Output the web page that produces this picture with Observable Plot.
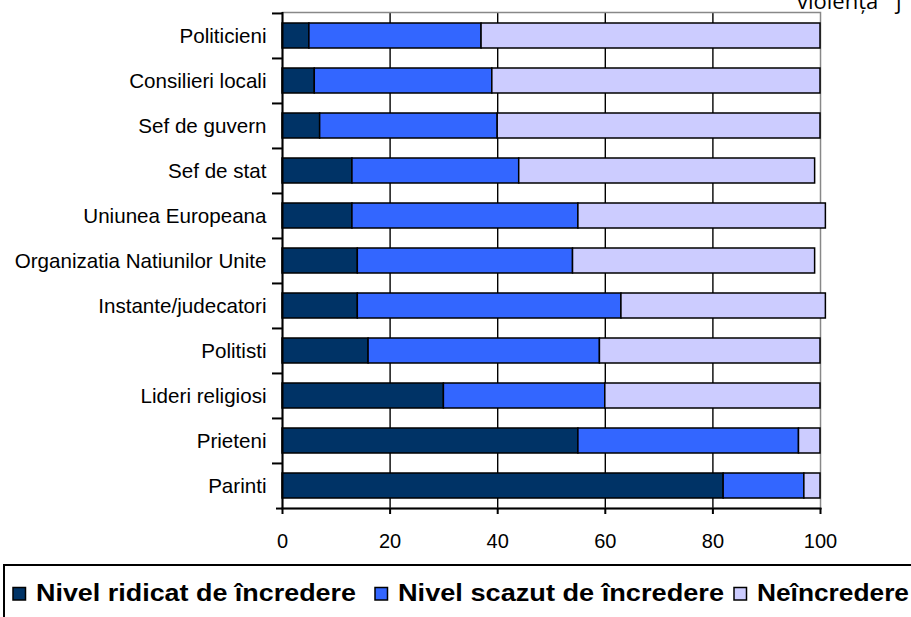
<!DOCTYPE html>
<html>
<head>
<meta charset="utf-8">
<script src="https://cdn.jsdelivr.net/npm/d3@7"></script>
<script src="https://cdn.jsdelivr.net/npm/@observablehq/plot@0.6"></script>
<style>
  html, body { margin: 0; padding: 0; background: white; }
  #wrap { position: relative; width: 911px; height: 617px; overflow: hidden; }
  #wrap svg { display: block; }
  #title { position: absolute; left: 0; top: 0; }
</style>
</head>
<body>
<div id="wrap"></div>
<script>
const categories = ["Politicieni", "Consilieri locali", "Sef de guvern", "Sef de stat", "Uniunea Europeana", "Organizatia Natiunilor Unite", "Instante/judecatori", "Politisti", "Lideri religiosi", "Prieteni", "Parinti"];
const ridicat     = [5, 6, 7, 13, 13, 14, 14, 16, 30, 55, 82];
const scazut      = [32, 33, 33, 31, 42, 40, 49, 43, 30, 41, 15];
const neincredere = [63, 61, 60, 55, 46, 45, 38, 41, 40, 4, 3];
const seriesNames = ["Nivel ridicat de încredere", "Nivel scazut de încredere", "Neîncredere"];
const seriesColors = ["#003366", "#3366FF", "#CCCCFF"];
const xTicks = [0, 20, 40, 60, 80, 100];
const titleFragment = "violența j";

const seriesValues = [ridicat, scazut, neincredere];
const rows = [];
categories.forEach((c, i) => {
  seriesNames.forEach((s, j) => rows.push({category: c, series: s, value: seriesValues[j][i]}));
});

const W = 911, H = 560, mT = 12, mB = 52, mL = 282, mR = 91;
const step = (H - mT - mB) / categories.length;
const font = "'Liberation Sans', Arial, sans-serif";

const chart = Plot.plot({
  width: W, height: H,
  marginTop: mT, marginBottom: mB, marginLeft: mL, marginRight: mR,
  style: {fontFamily: font, fontSize: "20px", color: "black", background: "white"},
  x: {domain: [0, 100], ticks: xTicks, label: null},
  y: {domain: categories, paddingInner: 0.445, paddingOuter: 0.2225, label: null},
  color: {domain: seriesNames, range: seriesColors},
  marks: [
    Plot.gridX(xTicks.filter(t => t > 0 && t < 100), {stroke: "black", strokeOpacity: 1, strokeWidth: 1.4}),
    Plot.frame({stroke: "#888", strokeWidth: 1.5}),
    Plot.barX(rows, Plot.stackX({y: "category", x: "value", fill: "series", stroke: "black", strokeWidth: 1.5, order: null})),
    Plot.ruleX([0], {stroke: "black", strokeWidth: 2}),
    Plot.frame({anchor: "bottom", stroke: "black", strokeWidth: 2}),
    Plot.axisX(xTicks, {tickSize: 6, tickPadding: 19, fontSize: 20, strokeWidth: 2, label: null}),
    Plot.axisY({tickSize: 0, tickPadding: 16, fontSize: 20.6, label: null}),
    Plot.axisY(categories, {tickSize: 10, dy: -step / 2, text: null, strokeWidth: 2, label: null}),
    Plot.axisY(categories.slice(-1), {tickSize: 6, dy: step / 2, text: null, strokeWidth: 2, label: null})
  ]
});
const wrap = document.getElementById("wrap");
wrap.appendChild(chart);

// clipped title fragment at the top right (cut off in the original as well)
const t = d3.select(wrap).append("svg").attr("id", "title").attr("width", W).attr("height", 20);
t.append("text").attr("x", 797).attr("y", 9)
  .style("font-family", "'Open Sans', sans-serif").style("font-size", "22px")
  .style("word-spacing", "12px").text(titleFragment);

// legend
const legendX = [13, 375, 734];
const legendTextLen = [320, 326, 152];
const lg = d3.select(wrap).append("svg").attr("width", W).attr("height", 617 - H);
lg.append("rect").attr("x", 4).attr("y", 5).attr("width", 1000).attr("height", 200)
  .attr("fill", "white").attr("stroke", "black").attr("stroke-width", 2);
seriesNames.forEach((s, i) => {
  lg.append("rect").attr("x", legendX[i]).attr("y", 27.5).attr("width", 12.5).attr("height", 12.5)
    .attr("fill", seriesColors[i]).attr("stroke", "black").attr("stroke-width", 1.5);
  lg.append("text").attr("x", legendX[i] + 23).attr("y", 41)
    .attr("textLength", legendTextLen[i]).attr("lengthAdjust", "spacingAndGlyphs")
    .style("font-family", font).style("font-weight", "bold").style("font-size", "23px")
    .text(s);
});
</script>
</body>
</html>
